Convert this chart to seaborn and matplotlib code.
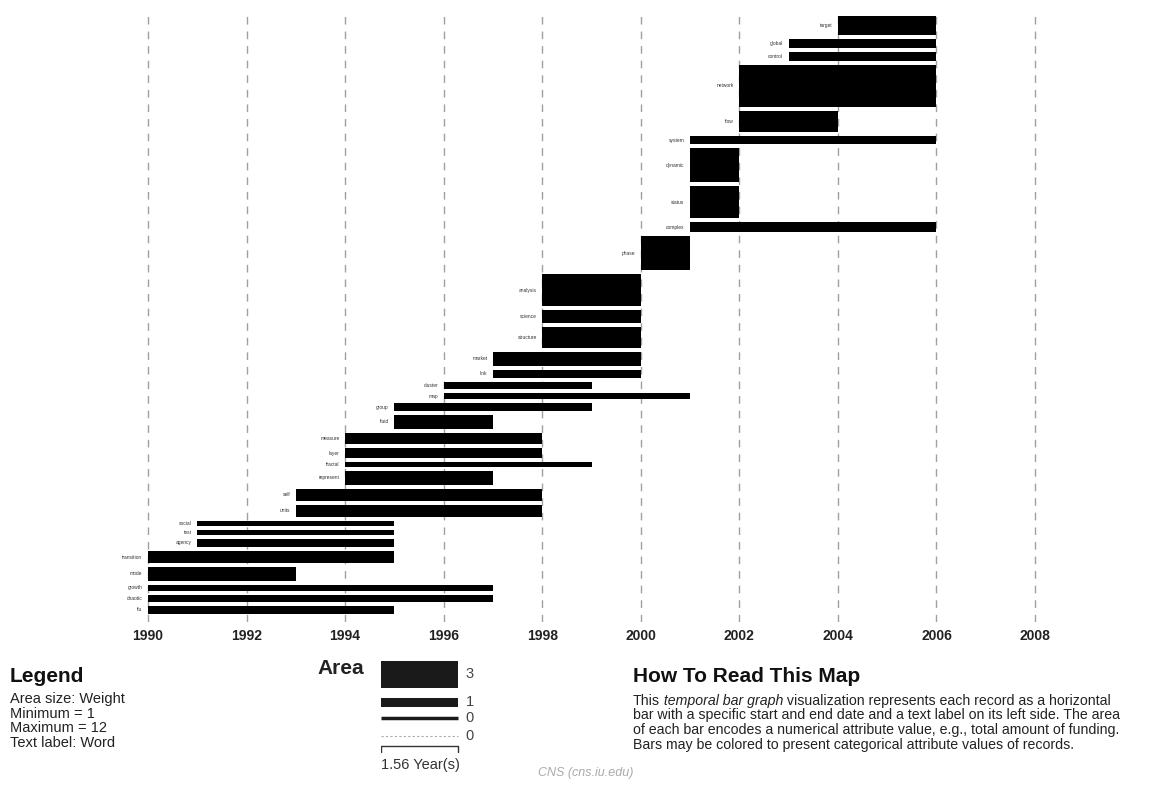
import numpy as np
import matplotlib
matplotlib.use("Agg")
import matplotlib.pyplot as plt
import seaborn as sns

# records, listed top to bottom as in the graph
words = ["target", "global", "control", "network", "flow", "system", "dynamic",
         "status", "complex", "phase", "analysis", "science", "structure", "market",
         "link", "cluster", "map", "group", "fluid", "measure", "layer", "fractal",
         "represent", "self", "units", "social", "test", "agency", "transition",
         "mode", "growth", "chaotic", "flu"]
start = [2004, 2003, 2003, 2002, 2002, 2001, 2001, 2001, 2001, 2000, 1998, 1998,
         1998, 1997, 1997, 1996, 1996, 1995, 1995, 1994, 1994, 1994, 1994, 1993,
         1993, 1991, 1991, 1991, 1990, 1990, 1990, 1990, 1990]
end = [2006, 2006, 2006, 2006, 2004, 2006, 2002, 2002, 2006, 2001, 2000, 2000,
       2000, 2000, 2000, 1999, 2001, 1999, 1997, 1998, 1998, 1999, 1997, 1998,
       1998, 1995, 1995, 1995, 1995, 1993, 1997, 1997, 1995]
weight = [2.7, 1.9, 1.9, 12.0, 3.1, 2.9, 2.4, 2.3, 3.6, 2.4, 4.6, 1.9, 3.0, 2.8,
          1.9, 1.5, 2.1, 2.3, 1.9, 3.4, 2.6, 1.8, 3.0, 4.3, 4.3, 1.4, 1.4, 2.3,
          4.6, 2.8, 3.0, 3.5, 3.2]

legend_weights = [3, 1, 0]
legend_span = 1.56
year_ticks = list(range(1990, 2009, 2))

sns.set_style("white")
plt.rcParams["font.family"] = ["Liberation Sans", "DejaVu Sans"]

W, H = 1164, 786
fig = plt.figure(figsize=(W / 100, H / 100), dpi=100)


def px_box(x0, y0, x1, y1):
    return [x0 / W, 1 - y1 / H, (x1 - x0) / W, (y1 - y0) / H]


px_per_year = (1035 - 148) / 18
area_unit = 14  # px * year for one unit of weight
gap = 4
pad = 8  # px of room either side of the first and last gridline

# main bar graph, y axis in pixels from the top
ax = fig.add_axes(px_box(148 - pad, 10, 1035 + pad, 622))
dur = np.array(end) - np.array(start)
thick = np.array(weight) * area_unit / dur
tops = 6 + np.concatenate([[0], np.cumsum(thick + gap)[:-1]])
centers = tops + thick / 2

ax.barh(centers, dur, left=start, height=thick, color="black", edgecolor="none", zorder=3)
for w, s, c in zip(words, start, centers):
    ax.annotate(w, xy=(s, c), xytext=(-4, 0), textcoords="offset points",
                ha="right", va="center", fontsize=3.5, color="#333333")

ax.set_xlim(1990 - pad / px_per_year, 2008 + pad / px_per_year)
ax.set_ylim(612, 0)
ax.set_xticks(year_ticks)
ax.set_xticklabels([str(y) for y in year_ticks], fontsize=10, fontweight="bold", color="#222222")
ax.set_yticks([])
ax.tick_params(axis="x", length=0, pad=5)
ax.grid(axis="x", color="#a0a0a0", linestyle=(0, (5.5, 5)), linewidth=1)
ax.grid(axis="y", visible=False)
for sp in ax.spines.values():
    sp.set_visible(False)

# area legend
lg = fig.add_axes(px_box(381, 655, 531, 780))
lg.set_xlim(0, 150 / px_per_year)
lg.set_ylim(125, 0)
lg.axis("off")
leg_thick = np.array(legend_weights) * area_unit / legend_span
leg_tops = [6, 43, 63]
for t, h, lab in zip(leg_tops, leg_thick, legend_weights):
    if h > 0:
        lg.barh(t + h / 2, legend_span, left=0, height=h, color="#1a1a1a", edgecolor="none")
    else:
        lg.plot([0, legend_span], [t, t], color="#1a1a1a", lw=2.5, solid_capstyle="butt")
    lg.text(legend_span + 8 / px_per_year, t + h / 2, str(lab), va="center", ha="left",
            fontsize=10.5, color="#444444")
lg.plot([0, legend_span], [81, 81], color="#aaaaaa", lw=0.8, linestyle=(0, (2, 2)))
lg.text(legend_span + 8 / px_per_year, 81, "0", va="center", ha="left", fontsize=10.5, color="#444444")
lg.plot([0, 0, legend_span, legend_span], [97, 91, 91, 97], color="#333333", lw=1)
lg.text(0, 110, "1.56 Year(s)", va="center", ha="left", fontsize=10.5, color="#333333")

# overlay for text blocks, pixel coordinates
ov = fig.add_axes([0, 0, 1, 1])
ov.set_xlim(0, W)
ov.set_ylim(H, 0)
ov.axis("off")

ov.text(10, 676, "Legend", fontsize=15, fontweight="bold", va="center", color="#111111")
ov.text(10, 692, "Area size: Weight\nMinimum = 1\nMaximum = 12\nText label: Word",
        fontsize=10.5, va="top", linespacing=1.06, color="#222222")
ov.text(317, 669, "Area", fontsize=15, fontweight="bold", va="center", color="#222222")

ov.text(633, 676, "How To Read This Map", fontsize=15, fontweight="bold", va="center", color="#111111")
t1 = ov.text(633, 701, "This", fontsize=10.2, va="center", color="#222222")
t2 = ov.annotate(" temporal bar graph", xy=(1, 0), xycoords=t1, va="bottom", ha="left",
                 fontsize=10.2, style="italic", color="#222222")
ov.annotate(" visualization represents each record as a horizontal", xy=(1, 0), xycoords=t2,
            va="bottom", ha="left", fontsize=10.2, color="#222222")
ov.text(633, 708, "bar with a specific start and end date and a text label on its left side. The area\n"
        "of each bar encodes a numerical attribute value, e.g., total amount of funding.\n"
        "Bars may be colored to present categorical attribute values of records.",
        fontsize=10.2, va="top", linespacing=1.1, color="#222222")

ov.text(586, 773, "CNS (cns.iu.edu)", fontsize=9, style="italic", color="#aaaaaa", ha="center", va="center")

fig.savefig("out.png", dpi=100)
